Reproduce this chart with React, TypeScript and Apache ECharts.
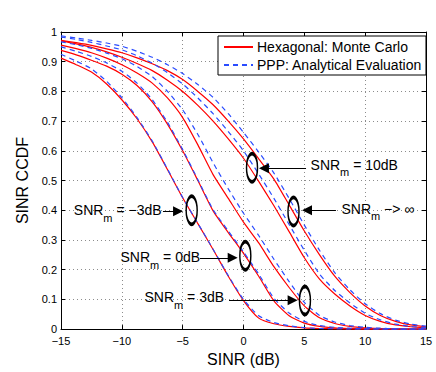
import React, { useEffect, useRef } from 'react';
import * as echarts from 'echarts';

// SINR thresholds (dB) at which the curves were read
const sinrDb = [-15, -13.75, -12.5, -11.25, -10, -8.75, -7.5, -6.25, -5, -3.75, -2.5, -1.25, 0, 1.25, 2.5, 3.75, 5, 6.25, 7.5, 8.75, 10, 11.25, 12.5, 13.75, 15];

// Hexagonal: Monte Carlo (red, solid)
const hexSnrM3 = [0.912, 0.89, 0.865, 0.825, 0.772, 0.708, 0.63, 0.537, 0.442, 0.355, 0.268, 0.178, 0.096, 0.037, 0.018, 0.009, 0.004, 0.002, 0.001, 0, 0, 0, 0, 0, 0];
const hexSnr0 = [0.938, 0.923, 0.905, 0.885, 0.858, 0.82, 0.765, 0.69, 0.6, 0.5, 0.398, 0.325, 0.255, 0.178, 0.095, 0.045, 0.02, 0.009, 0.004, 0.002, 0.001, 0, 0, 0, 0];
const hexSnr3 = [0.956, 0.944, 0.93, 0.912, 0.89, 0.862, 0.828, 0.778, 0.712, 0.62, 0.52, 0.44, 0.36, 0.29, 0.21, 0.14, 0.078, 0.038, 0.019, 0.009, 0.004, 0.002, 0.001, 0, 0];
const hexSnr10 = [0.97, 0.96, 0.948, 0.933, 0.915, 0.894, 0.87, 0.838, 0.8, 0.753, 0.7, 0.64, 0.575, 0.497, 0.415, 0.328, 0.24, 0.168, 0.118, 0.078, 0.046, 0.026, 0.014, 0.008, 0.004];
const hexSnrInf = [0.972, 0.964, 0.955, 0.943, 0.93, 0.913, 0.893, 0.87, 0.84, 0.8, 0.755, 0.7, 0.64, 0.573, 0.505, 0.418, 0.33, 0.25, 0.178, 0.123, 0.078, 0.046, 0.026, 0.014, 0.008];

// PPP: Analytical Evaluation (blue, dashed)
const pppSnrM3 = [0.925, 0.902, 0.876, 0.834, 0.779, 0.712, 0.633, 0.539, 0.443, 0.356, 0.269, 0.18, 0.1, 0.045, 0.022, 0.011, 0.005, 0.002, 0.001, 0, 0, 0, 0, 0, 0];
const pppSnr0 = [0.95, 0.935, 0.918, 0.896, 0.868, 0.828, 0.772, 0.696, 0.604, 0.503, 0.402, 0.33, 0.26, 0.185, 0.104, 0.054, 0.026, 0.012, 0.006, 0.003, 0.001, 0, 0, 0, 0];
const pppSnr3 = [0.967, 0.957, 0.945, 0.929, 0.91, 0.884, 0.85, 0.8, 0.738, 0.655, 0.56, 0.472, 0.39, 0.315, 0.235, 0.16, 0.09, 0.046, 0.024, 0.012, 0.006, 0.003, 0.001, 0, 0];
const pppSnr10 = [0.983, 0.975, 0.965, 0.953, 0.94, 0.92, 0.895, 0.863, 0.825, 0.778, 0.725, 0.665, 0.6, 0.522, 0.44, 0.352, 0.265, 0.185, 0.13, 0.088, 0.053, 0.031, 0.017, 0.009, 0.005];
const pppSnrInf = [0.987, 0.98, 0.972, 0.963, 0.952, 0.935, 0.915, 0.89, 0.86, 0.823, 0.78, 0.725, 0.662, 0.596, 0.525, 0.44, 0.35, 0.265, 0.19, 0.132, 0.085, 0.052, 0.03, 0.017, 0.01];

const legendNames = ['Hexagonal: Monte Carlo', 'PPP: Analytical Evaluation'];
const xTicks = [-15, -10, -5, 0, 5, 10, 15];
const yTicks = [0, 0.1, 0.2, 0.3, 0.4, 0.5, 0.6, 0.7, 0.8, 0.9, 1];

// annotations (data coordinates)
const snrLabels = ['= \u22123dB', '= 0dB', '= 3dB', '= 10dB', '\u2212> \u221e'];
const labelAnchors = [[-13.99, 0.4], [-10.15, 0.242], [-8.18, 0.107], [5.47, 0.553], [8.01, 0.405]];
const ellipseCenters = [[-4.26, 0.4], [0.15, 0.247], [5.05, 0.096], [0.7, 0.543], [4.11, 0.396]];
const arrowStarts = [[-6.62, 0.397], [-3.58, 0.24], [-1.19, 0.097], [5.14, 0.541], [7.6, 0.4]];
const arrowTips = [[-4.97, 0.397], [-0.48, 0.24], [4.45, 0.097], [1.27, 0.541], [4.81, 0.4]];

const FONT = '"Liberation Sans", Arial, Helvetica, sans-serif';
const RED = '#ff0000';
const BLUE = '#2a4cff';

export default function App() {
  const ref = useRef<HTMLDivElement>(null);
  useEffect(() => {
    if (!ref.current) return;
    const chart = echarts.init(ref.current, undefined, { renderer: 'svg' });
    const hex = [hexSnrM3, hexSnr0, hexSnr3, hexSnr10, hexSnrInf];
    const ppp = [pppSnrM3, pppSnr0, pppSnr3, pppSnr10, pppSnrInf];
    const series: any[] = [];
    hex.forEach((ys) =>
      series.push({
        type: 'line',
        name: legendNames[0],
        data: sinrDb.map((x, i) => [x, ys[i]]),
        symbol: 'none',
        showSymbol: false,
        smooth: 0.2,
        lineStyle: { color: RED, width: 1.2 },
        itemStyle: { color: RED },
        z: 2,
        silent: true,
      })
    );
    ppp.forEach((ys) =>
      series.push({
        type: 'line',
        name: legendNames[1],
        data: sinrDb.map((x, i) => [x, ys[i]]),
        symbol: 'none',
        showSymbol: false,
        smooth: 0.2,
        lineStyle: { color: BLUE, width: 1.2, type: [5, 4] },
        itemStyle: { color: BLUE },
        z: 3,
        silent: true,
      })
    );
    // ellipses
    series.push({
      type: 'scatter',
      name: 'ellipses',
      data: ellipseCenters,
      symbol: 'circle',
      symbolSize: [11, 28],
      itemStyle: { color: 'rgba(0,0,0,0)', borderColor: '#000', borderWidth: 2.3, opacity: 1 },
      z: 5,
      silent: true,
    });
    // arrow end offset: triangle symbol is centred on the end point
    const grid = { left: 61, right: 10, top: 32, bottom: 38 };
    const pxPerUnit = (436 - grid.left - grid.right) / 30;
    const half = 5 / pxPerUnit;
    series.push({
      type: 'scatter',
      name: 'labels',
      data: labelAnchors.map((p, i) => ({ value: p, name: snrLabels[i] })),
      symbolSize: 1,
      itemStyle: { color: 'rgba(0,0,0,0)', opacity: 1 },
      label: {
        show: true,
        position: 'right',
        distance: 0,
        formatter: (p: any) => '{a|SNR}{b|m}{a| ' + p.name + '}',
        rich: {
          a: { fontSize: 14, fontFamily: FONT, color: '#000', lineHeight: 26 },
          b: { fontSize: 11, fontFamily: FONT, color: '#000', lineHeight: 11, verticalAlign: 'bottom' },
        },
      },
      markLine: {
        silent: true,
        symbol: ['none', 'triangle'],
        symbolSize: 10,
        label: { show: false },
        lineStyle: { color: '#000', width: 1, type: 'solid' },
        itemStyle: { color: '#000' },
        data: arrowStarts.map((s, i) => {
          const t = arrowTips[i];
          const dir = t[0] > s[0] ? 1 : -1;
          return [{ coord: s }, { coord: [t[0] - dir * half, t[1]] }];
        }),
      },
      z: 6,
      silent: true,
    });

    const axisLine = { show: true, onZero: false, lineStyle: { color: '#000', width: 1 } };
    const tick = { show: true, inside: true, length: 4, lineStyle: { color: '#000', width: 1 } };
    const split = { show: true, lineStyle: { type: [1, 3], color: '#8c8c8c', width: 1 } };
    const minus = (v: number) => (v < 0 ? '\u2212' + Math.abs(v) : String(v));

    chart.setOption({
      animation: false,
      backgroundColor: '#fff',
      grid,
      legend: {
        data: legendNames,
        orient: 'vertical',
        left: 218,
        top: 36,
        padding: [3, 4, 2, 5],
        itemGap: 2,
        itemWidth: 29,
        itemHeight: 14,
        borderColor: '#000',
        borderWidth: 1,
        borderRadius: 0,
        backgroundColor: '#fff',
        selectedMode: false,
        itemStyle: { color: 'rgba(0,0,0,0)', borderColor: 'rgba(0,0,0,0)', borderWidth: 0, opacity: 0 },
        textStyle: { fontSize: 14, fontFamily: FONT, color: '#000', lineHeight: 16, padding: [0, 0, 0, -1] },
        z: 10,
      },
      xAxis: [
        {
          type: 'value',
          min: -15,
          max: 15,
          interval: 5,
          position: 'bottom',
          axisLine,
          axisTick: tick,
          axisLabel: { fontSize: 11, fontFamily: FONT, color: '#000', margin: 6, formatter: minus, customValues: xTicks },
          splitLine: split,
          name: 'SINR (dB)',
          nameLocation: 'middle',
          nameGap: 17,
          nameTextStyle: { fontSize: 16, fontFamily: FONT, color: '#000' },
        },
        {
          type: 'value',
          min: -15,
          max: 15,
          interval: 5,
          position: 'top',
          axisLine,
          axisTick: tick,
          axisLabel: { show: false },
          splitLine: { show: false },
        },
      ],
      yAxis: [
        {
          type: 'value',
          min: 0,
          max: 1,
          interval: 0.1,
          position: 'left',
          axisLine,
          axisTick: tick,
          axisLabel: {
            fontSize: 11,
            fontFamily: FONT,
            color: '#000',
            margin: 4,
            formatter: (v: number) => String(Math.round(v * 10) / 10),
            customValues: yTicks,
          },
          splitLine: split,
          name: 'SINR CCDF',
          nameLocation: 'middle',
          nameGap: 23,
          nameTextStyle: { fontSize: 16, fontFamily: FONT, color: '#000' },
        },
        {
          type: 'value',
          min: 0,
          max: 1,
          interval: 0.1,
          position: 'right',
          axisLine,
          axisTick: tick,
          axisLabel: { show: false },
          splitLine: { show: false },
        },
      ],
      series,
    });
    return () => chart.dispose();
  }, []);
  return (
    <div
      ref={ref}
      style={{ position: 'fixed', left: 0, top: 0, width: 436, height: 372, background: '#fff' }}
    />
  );
}
